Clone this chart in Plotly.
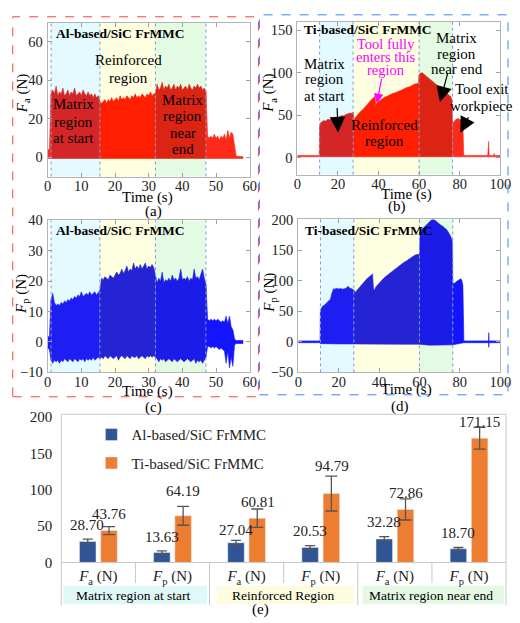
import plotly.graph_objects as go

W, H = 520, 623
SERIF = "'Liberation Serif', 'DejaVu Serif', serif"
SERIF2 = "'Liberation Serif', 'DejaVu Serif', serif"


def px(x):
    return x / W


def py(y):
    return 1 - y / H


# ---------------- data: panels (a) and (c), Al-based, sampled every 0.5 s ----------------
AL_SAMPLE_STEP = 0.5
AL_BOUNDS = [1.0, 15.5, 32.0, 47.0]
FA_AL_UPPER = [
    4, 4, 33, 35, 33, 37, 32, 34, 33, 36,
    32, 33, 35, 32, 34, 33, 36, 32, 33, 34,
    32, 35, 33, 32, 34, 32, 33, 31, 33, 31,
    32, 29, 28, 29, 30, 28, 30, 29, 31, 29,
    30, 31, 29, 32, 30, 31, 30, 32, 31, 30,
    32, 31, 33, 31, 32, 31, 33, 32, 31, 33,
    32, 34, 32, 33, 33, 38, 35, 36, 39, 35,
    37, 36, 38, 35, 36, 38, 35, 37, 36, 38,
    35, 36, 37, 35, 38, 36, 35, 37, 36, 38,
    36, 37, 35, 36, 34, 11, 10, 11, 10, 12,
    10, 11, 9, 11, 10, 12, 9, 14, 10, 13,
    12, 6, 0.6, 0.5, 0.4, 0.4, 0.3,
]
FA_AL_BASE = -0.6
FP_AL_UPPER = [
    2, 1.5, 14, 16, 13, 12, 12.5, 12, 13, 12.5,
    13.5, 13, 14, 13.5, 14.5, 14, 15, 14.5, 15.5, 15,
    16.5, 15, 15.5, 16, 15.5, 16.5, 15.5, 16, 16.5, 15.5,
    16.5, 17, 21, 20.5, 21.5, 21, 20.5, 22, 21.5, 21,
    22, 23, 22, 22.5, 24, 22.5, 23.5, 25, 23, 24,
    23.5, 26, 24, 25, 24, 25.5, 24, 25, 26, 24,
    25, 24.5, 25.5, 24.5, 22, 19.5, 21, 20, 23, 19.5,
    20.5, 20, 21, 20, 22, 20.5, 21, 20, 21, 24,
    20.5, 21, 20.5, 21.5, 20, 21, 20.5, 24, 21, 21.5,
    20.5, 22, 24, 21, 19, 7.5, 7, 7.5, 7, 7.5,
    7, 7.5, 7, 6.5, 7, 6.5, 8.5, 6, 8.5, 5,
    4, 1, 0.5, 0.5, 0.5, 0.5, 0.5,
]
FP_AL_LOWER = [
    -2, -2.5, -6, -7, -6, -6.5, -6, -7, -6, -6.5,
    -5.5, -6, -6.5, -5.5, -6, -6.5, -5.5, -6, -6.5, -5.5,
    -6, -5.5, -6.5, -5.5, -6, -5.5, -6, -5, -6, -5.5,
    -5, -5.5, -5, -5.5, -4.5, -5, -5.5, -4.5, -5, -5.5,
    -5, -4.5, -6, -5, -4.5, -5, -5.5, -4.5, -5, -5.5,
    -4.5, -5, -5, -4.5, -5.5, -5, -4.5, -5, -5.5, -4.5,
    -5, -4.5, -5, -4.5, -5, -5.5, -6.5, -5.5, -6, -5.5,
    -6.5, -6, -5.5, -6, -6.5, -5.5, -6, -6.5, -6, -5.5,
    -6, -6.5, -6, -5.5, -6, -6.5, -6, -5.5, -7, -6,
    -6.5, -6, -7, -6, -5, -1.5, -1.5, -2, -1.5, -2,
    -1.5, -2, -2.5, -2, -2.5, -3, -7, -3, -8.5, -5,
    -8, -1, -0.5, -0.5, -0.5, -0.5, -0.5,
]
T_AL = [k * AL_SAMPLE_STEP for k in range(len(FA_AL_UPPER))]

# ---------------- data: panels (b) and (d), Ti-based ----------------
TI_BOUNDS = [11.0, 27.5, 60.0, 76.5]
FA_TI_T = [0, 10.8, 11, 11.5, 12, 13, 14, 15, 16, 17, 18, 19, 20, 21, 22, 23, 24, 25, 26, 27,
           27.5, 27.8, 28.5, 29.5, 30.5, 31.5, 32.5, 33.5, 34.5, 35.5, 36.5, 37.5, 38.2, 38.7, 39.2,
           40, 41, 42, 43, 44, 45, 46, 47, 48, 49, 50, 51, 52, 53, 54, 55, 56, 57, 58, 59, 59.8,
           60, 60.5, 61.5, 62.5, 63.5, 64.5, 65.5, 66.5, 67.5, 68.5, 69.5, 70.5, 71.5, 72.5, 73.5,
           74.5, 75.5, 76.2, 76.5, 77, 78, 79, 80, 81, 81.6, 82, 82.2, 93.8, 94, 94.3, 94.5,
           96.8, 97, 97.2, 100]
FA_TI_UPPER = [2.5, 2.5, 36, 41, 42, 43.5, 43, 45, 44.5, 46, 46.5, 47.5, 47, 48.5, 49.5, 49, 51, 51.5, 52.5, 52,
               53.5, 44, 47, 50, 52.5, 55, 57, 60, 62, 65, 68, 70, 72, 61, 64,
               66, 68, 69.5, 71, 72, 73.5, 74, 75.5, 76, 77.5, 78, 79, 80.5, 81, 82.5, 83, 84.5, 85, 86.5, 87, 88,
               97, 99, 100, 98, 96.5, 94, 92.5, 90, 88.5, 86, 84.5, 82, 80.5, 78, 76.5,
               74, 72, 68, 40, 42, 44.5, 46, 45, 43, 38, 3, 2.5, 2.5, 19, 19, 2.5,
               2.5, 5, 2.5, 2.5]
FA_TI_BASE = 1.0

FP_TI_T = [0, 10.8, 11, 11.5, 12, 13, 14, 15, 16, 16.5, 17, 17.5, 18, 19, 20, 21, 22, 23, 24, 24.5,
           25, 26, 27, 27.5, 28, 28.5, 29, 30, 31, 32, 33, 34, 35, 36, 36.8, 37.2, 37.6, 38.5,
           40, 41.5, 43, 44.5, 46, 47.5, 49, 50.5, 52, 53.5, 55, 56.5, 58, 59.5,
           60, 60.3, 61, 62, 63, 64, 65, 66, 66.5, 67.5, 68.5, 69.5, 70.5, 71.5, 72.5, 73.5,
           74.5, 75.5, 76.2, 76.5, 77.5, 78.5, 79.5, 80.5, 81, 81.5, 82, 94.2, 94.3, 94.5, 100]
FP_TI_UPPER = [1.5, 1.5, 52, 56, 58, 60, 63, 66, 70, 78, 84, 87, 86, 87.5, 86.5, 87, 86, 87.5, 88, 91,
               89, 87, 86, 84, 83, 81, 84, 88, 92, 96, 100, 103, 106, 109, 111, 88, 84, 90,
               96, 101, 106, 110, 114, 118, 122, 126, 129, 132, 136, 139, 142, 143,
               141, 175, 183, 186, 189, 192, 195, 198, 201, 199, 196, 193, 191, 189, 186, 183,
               178, 172, 165, 95, 96, 99, 101, 103, 100, 92, 1.5, 1.5, 15, 1.5, 1.5]
FP_TI_LOWER_T = [0, 10.8, 11, 20, 27.5, 40, 50, 60, 65, 70, 76.5, 80, 82, 94.2, 94.3, 94.5, 100]
FP_TI_LOWER = [-1.5, -1.5, -3, -3.5, -3.5, -4, -4, -4, -5.5, -5.5, -5, -3, -1.5, -1.5, -9, -1.5, -1.5]

# ---------------- data: panel (e) bar chart ----------------
CATEGORY_LABELS = ["<i>F</i><sub>a</sub> (N)", "<i>F</i><sub>p</sub> (N)"] * 3
GROUP_LABELS = ["Matrix region at start", "Reinforced Region", "Matrix region near end"]
SERIES_NAMES = ["Al-based/SiC FrMMC", "Ti-based/SiC FrMMC"]
AL_MEAN = [28.70, 13.63, 27.04, 20.53, 32.28, 18.70]
AL_ERR = [3.3, 2.2, 3.3, 2.5, 3.3, 1.8]
TI_MEAN = [43.76, 64.19, 60.81, 94.79, 72.86, 171.15]
TI_ERR = [5.6, 13.0, 12.7, 24.0, 14.5, 15.0]

# label placement (layout, in data units of the bar chart y axis)
AL_LABEL_Y = [51, 35, 44.6, 43, 55, 41]
TI_LABEL_Y = [67, 99, 83, 133, 95, 193]

# ---------------- styles ----------------
REGION_BG = ["#e3fbff", "#fefee0", "#e3fbe3"]
RED_SEG = ["#ff2a1a", "#d42626", "#ff1e00", "#dc2414", "#ff2a1a"]
BLUE_SEG = ["#1a1aff", "#1e1ef2", "#2424d4", "#1c1ce8", "#1414ff"]

fig = go.Figure()


def band(tu, vu, a, b, tl=None, vl=None, base=0.0):
    eps = 1e-9
    xu = [t for t in tu if a - eps <= t <= b + eps]
    yu = [v for t, v in zip(tu, vu) if a - eps <= t <= b + eps]
    if tl is None:
        xl, yl = [a, b], [base, base]
    else:
        xl = [t for t in tl if a - eps <= t <= b + eps]
        yl = [v for t, v in zip(tl, vl) if a - eps <= t <= b + eps]
    return xu + xl[::-1], yu + yl[::-1]


def add_signal(n, tu, vu, bounds, colors, tl=None, vl=None, base=0.0):
    edges = [tu[0]] + bounds + [tu[-1]]
    sfx = "" if n == 1 else str(n)
    for i, (a, b) in enumerate(zip(edges[:-1], edges[1:])):
        xs, ys = band(tu, vu, a, b, tl, vl, base)
        fig.add_trace(go.Scatter(
            x=xs, y=ys, mode="lines", fill="toself", fillcolor=colors[i],
            line=dict(width=0.6, color=colors[i]), hoverinfo="skip", showlegend=False,
            xaxis="x" + sfx, yaxis="y" + sfx))


add_signal(1, T_AL, FA_AL_UPPER, AL_BOUNDS, RED_SEG, base=FA_AL_BASE)
add_signal(2, FA_TI_T, FA_TI_UPPER, TI_BOUNDS, RED_SEG, base=FA_TI_BASE)
add_signal(3, T_AL, FP_AL_UPPER, AL_BOUNDS, BLUE_SEG, tl=T_AL, vl=FP_AL_LOWER)
add_signal(4, FP_TI_T, FP_TI_UPPER, TI_BOUNDS, BLUE_SEG, tl=FP_TI_LOWER_T, vl=FP_TI_LOWER)

# bar chart
cat_x = list(range(len(CATEGORY_LABELS)))
fig.add_trace(go.Bar(
    x=cat_x, y=AL_MEAN, name=SERIES_NAMES[0], marker_color="#2F5597", legendgroup="al",
    error_y=dict(type="data", array=AL_ERR, color="#555555", thickness=1.3, width=5),
    xaxis="x5", yaxis="y5", hoverinfo="skip"))
fig.add_trace(go.Bar(
    x=cat_x, y=TI_MEAN, name=SERIES_NAMES[1], marker_color="#ED7D31", legendgroup="ti",
    error_y=dict(type="data", array=TI_ERR, color="#555555", thickness=1.3, width=6),
    xaxis="x5", yaxis="y5", hoverinfo="skip"))

TICKFONT = dict(family=SERIF, size=14.5, color="#222222")


def ts_axes(n, xpx, ypx, xr, yr, xt, yt):
    sfx = "" if n == 1 else str(n)
    xa = dict(domain=[px(xpx[0]), px(xpx[1])], range=xr, tickvals=xt, ticks="inside", ticklen=4,
              tickcolor="#a0a0a0", showline=True, linecolor="#b4b4b4", linewidth=1, mirror="ticks",
              showgrid=False, zeroline=False, tickfont=TICKFONT, anchor="y" + sfx,
              ticklabelstandoff=-4)
    ya = dict(domain=[py(ypx[1]), py(ypx[0])], range=yr, tickvals=yt, ticks="inside", ticklen=4,
              tickcolor="#a0a0a0", showline=True, linecolor="#b4b4b4", linewidth=1, mirror="ticks",
              showgrid=False, zeroline=False, tickfont=TICKFONT, anchor="x" + sfx,
              ticklabelstandoff=1)
    fig.update_layout(**{"xaxis" + sfx: xa, "yaxis" + sfx: ya})


ts_axes(1, (45, 253), (15, 173), [0, 60], [-10, 70], [0, 10, 20, 30, 40, 50, 60], [0, 20, 40, 60])
ts_axes(2, (302, 511), (14, 171), [0, 100], [-20, 160], [0, 20, 40, 60, 80, 100], [0, 50, 100, 150])
ts_axes(3, (45, 253), (218, 374), [0, 60], [-10, 40], [0, 10, 20, 30, 40, 50, 60],
        [-10, 0, 10, 20, 30, 40])
ts_axes(4, (303, 511), (217, 374), [0, 100], [-50, 200], [0, 20, 40, 60, 80, 100],
        [-50, 0, 50, 100, 150, 200])

fig.update_layout(
    xaxis5=dict(domain=[px(59), px(517)], range=[-0.5, 5.5], tickvals=cat_x, ticktext=CATEGORY_LABELS,
                ticks="", showline=True, linecolor="#c8c8c8", showgrid=False, zeroline=False,
                tickfont=dict(family=SERIF2, size=15, color="#222222"), anchor="y5"),
    yaxis5=dict(domain=[py(569), py(420)], range=[0, 200], tickvals=[0, 50, 100, 150, 200],
                showline=False, showgrid=False, zeroline=False, ticks="", ticklabelstandoff=8,
                tickfont=dict(family=SERIF2, size=15, color="#222222"), anchor="x5"),
    barmode="group", bargap=0.427, bargroupgap=0.222,
)

shapes = []
# region backgrounds and boundaries
for n, bounds in [(1, AL_BOUNDS), (2, TI_BOUNDS), (3, AL_BOUNDS), (4, TI_BOUNDS)]:
    sfx = "" if n == 1 else str(n)
    for i in range(3):
        shapes.append(dict(type="rect", xref="x" + sfx, yref="y" + sfx + " domain",
                           x0=bounds[i], x1=bounds[i + 1], y0=0, y1=1, fillcolor=REGION_BG[i],
                           line=dict(width=0), layer="below"))
    for bx in bounds:
        shapes.append(dict(type="line", xref="x" + sfx, yref="y" + sfx + " domain",
                           x0=bx, x1=bx, y0=0, y1=1,
                           line=dict(color="#7f9ad6", width=1, dash="dot"), layer="above"))

# dashed frames around (a)/(c) and (b)/(d)
shapes.append(dict(type="rect", xref="paper", yref="paper", x0=px(9), x1=px(262), y0=py(399), y1=py(9),
                   line=dict(color="#ff4040", width=1, dash="dash")))
shapes.append(dict(type="rect", xref="paper", yref="paper", x0=px(263), x1=px(519), y0=py(397), y1=py(7),
                   line=dict(color="#4080ff", width=1, dash="dash")))

# bar chart frame and table separators
FRAME = "#c8c8c8"
for (x0, y0, x1, y1) in [(59, 417, 517, 417), (59, 417, 59, 613), (517, 417, 517, 613)]:
    shapes.append(dict(type="line", xref="paper", yref="paper", x0=px(x0), y0=py(y0), x1=px(x1),
                       y1=py(y1), line=dict(color=FRAME, width=1)))
for k in range(1, len(CATEGORY_LABELS)):
    bottom = 613 if k % 2 == 0 else 590
    shapes.append(dict(type="line", xref="x5", yref="paper", x0=k - 0.5, x1=k - 0.5,
                       y0=py(bottom), y1=py(569), line=dict(color=FRAME, width=1)))
GROUP_BOX = [(61, 209), (219, 360), (369, 515)]
GROUP_FILL = ["#e0f8f8", "#fdfbe0", "#e4f8e4"]
for (x0, x1), col in zip(GROUP_BOX, GROUP_FILL):
    shapes.append(dict(type="rect", xref="paper", yref="paper", x0=px(x0), x1=px(x1), y0=py(612),
                       y1=py(593), fillcolor=col, line=dict(width=0), layer="below"))

ann = []


def txt(x, y, s, size=14, color="black", bold=False, xanchor="center", angle=0, fam=SERIF2):
    if bold:
        s = "<b>" + s + "</b>"
    ann.append(dict(x=px(x), y=py(y), xref="paper", yref="paper", text=s, showarrow=False,
                    xanchor=xanchor, yanchor="middle", textangle=angle,
                    font=dict(family=fam, size=size, color=color)))


# panel titles
txt(51, 26, "Al-based/SiC FrMMC", 13.5, bold=True, xanchor="left")
txt(307, 22, "Ti-based/SiC FrMMC", 13.5, bold=True, xanchor="left")
txt(51, 228, "Al-based/SiC FrMMC", 13.5, bold=True, xanchor="left")
txt(308, 228, "Ti-based/SiC FrMMC", 13.5, bold=True, xanchor="left")

# panel (a) region notes
for s, y in [("Reinforced", 53), ("region", 72)]:
    txt(128, y, s, 15)
for s, y in [("Matrix", 99), ("region", 117), ("at start", 133)]:
    txt(72, y, s, 15)
for s, y in [("Matrix", 94), ("region", 111), ("near", 128), ("end", 145)]:
    txt(184, y, s, 15)

# panel (b) notes
for s, y in [("Matrix", 57), ("region", 73), ("at start", 90)]:
    txt(330, y, s, 15)
for s, y in [("Tool fully", 37), ("enters this", 50), ("region", 64)]:
    txt(393, y, s, 14.5, color="#ff00ff")
for s, y in [("Matrix", 31), ("region", 47), ("near end", 63)]:
    txt(466, y, s, 15)
for s, y in [("Tool exit", 83), ("workpiece", 101)]:
    txt(492, y, s, 15)
for s, y in [("Reinforced", 120), ("region", 137)]:
    txt(392, y, s, 15)

# arrows in (b)
for (tx, ty, axp, ayp, col, size) in [(20.1, 29.6, -1, -26, "black", 2.6),
                                       (39.2, 63.9, 5, -26, "#ff00ff", 1.6),
                                       (70.3, 65.3, 8, -30, "black", 2.6),
                                       (80.3, 29.3, 9, -17, "black", 2.6)]:
    ann.append(dict(x=tx, y=ty, xref="x2", yref="y2", ax=axp, ay=ayp, text="", showarrow=True,
                    arrowhead=2, arrowsize=size, arrowwidth=1.2, arrowcolor=col))

# axis titles
txt(19, 88, "<i>F</i><sub>a</sub> (N)", 15, angle=-90)
txt(273, 88, "<i>F</i><sub>a</sub> (N)", 15, angle=-90)
txt(19, 293, "<i>F</i><sub>p</sub> (N)", 15, angle=-90)
txt(273, 292, "<i>F</i><sub>p</sub> (N)", 15, angle=-90)
txt(148, 195, "Time (s)", 15)
txt(414, 191, "Time (s)", 15)
txt(148, 394, "Time (s)", 15)
txt(414, 392, "Time (s)", 15)

# sub-figure labels
txt(154, 209, "(a)", 15)
txt(405, 204, "(b)", 15)
txt(154, 410, "(c)", 15)
txt(408, 409, "(d)", 15)
txt(264, 617, "(e)", 15)

# bar value labels
for i, v in enumerate(AL_MEAN):
    ann.append(dict(x=i, y=AL_LABEL_Y[i], xref="x5", yref="y5", text=f"{v:.2f}", showarrow=False,
                    xshift=-10.9, font=dict(family=SERIF2, size=15, color="#222222")))
for i, v in enumerate(TI_MEAN):
    ann.append(dict(x=i, y=TI_LABEL_Y[i], xref="x5", yref="y5", text=f"{v:.2f}", showarrow=False,
                    xshift=10.9, font=dict(family=SERIF2, size=15, color="#222222")))

# group labels under the bar chart
for (x0, x1), s in zip(GROUP_BOX, GROUP_LABELS):
    txt((x0 + x1) / 2 - 2, 603, s, 13.5)

fig.update_layout(
    width=W, height=H, margin=dict(l=0, r=0, t=0, b=0),
    paper_bgcolor="white", plot_bgcolor="rgba(0,0,0,0)",
    shapes=shapes, annotations=ann,
    showlegend=True,
    legend=dict(x=px(90), y=py(421), xanchor="left", yanchor="top", traceorder="grouped",
                tracegroupgap=6, bgcolor="rgba(0,0,0,0)",
                font=dict(family=SERIF2, size=15, color="#222222")),
)

fig.write_html("out.html")
